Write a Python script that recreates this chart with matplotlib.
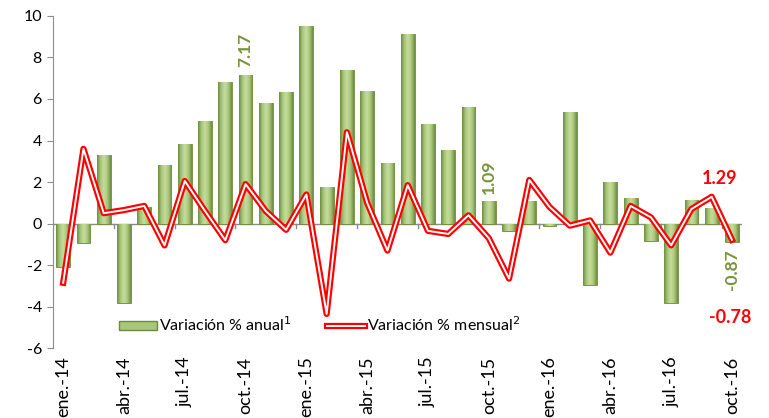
import numpy as np
import matplotlib
import matplotlib.pyplot as plt
import matplotlib.patheffects as pe
from matplotlib.colors import LinearSegmentedColormap
from matplotlib.patches import Patch
from matplotlib.lines import Line2D

plt.rcParams['font.family'] = ['Lato', 'DejaVu Sans']
plt.rcParams['axes.unicode_minus'] = False

months = ['ene.', 'feb.', 'mar.', 'abr.', 'may.', 'jun.', 'jul.', 'ago.', 'sep.', 'oct.', 'nov.', 'dic.']
years = ['14', '15', '16']
labels = [m + '-' + y for y in years for m in months][:34]

anual = [-2.1, -0.95, 3.3, -3.8, 0.8, 2.8, 3.85, 4.95, 6.8, 7.17, 5.8, 6.35,
         9.5, 1.75, 7.4, 6.4, 2.9, 9.15, 4.8, 3.55, 5.6, 1.09, -0.35, 1.1,
         -0.1, 5.35, -2.95, 2.0, 1.25, -0.85, -3.8, 1.15, 0.75, -0.87]
mensual = [-2.85, 3.6, 0.5, 0.65, 0.85, -1.05, 2.05, 0.6, -0.8, 1.9, 0.6, -0.3,
           1.4, -4.35, 4.4, 1.0, -1.3, 1.85, -0.35, -0.5, 0.4, -0.7, -2.65, 2.1,
           0.8, -0.1, 0.15, -1.4, 0.85, 0.3, -1.05, 0.7, 1.29, -0.78]

green_txt = '#77933C'
x = np.arange(len(anual))

fig = plt.figure(figsize=(7.69, 4.18), dpi=100)
ax = fig.add_axes([0.069, 0.167, 0.896, 0.795])

bars = ax.bar(x, anual, width=0.68, color='#9BBB59', edgecolor='#6E8A3C', linewidth=0.6, zorder=2)

# shaded look for the bars
cmap = LinearSegmentedColormap.from_list('g', ['#6F8E42', '#A9C77A', '#C6DD9E', '#A9C77A', '#6F8E42'])
grad = np.linspace(0, 1, 64).reshape(1, -1)
for b in bars:
    x0, y0 = b.get_x(), b.get_y()
    w, h = b.get_width(), b.get_height()
    im = ax.imshow(grad, extent=[x0, x0 + w, min(y0, y0 + h), max(y0, y0 + h)],
                   aspect='auto', cmap=cmap, zorder=2.1)
    im.set_clip_path(b)

line_fx = [pe.Stroke(linewidth=4.5, foreground='#FF0000'), pe.Normal()]
ax.plot(x, mensual, color='white', linewidth=1.4, zorder=3, path_effects=line_fx)

ax.set_xlim(-0.5, len(anual) - 0.5)
ax.set_ylim(-6, 10)

# zero line with small ticks every 3 months
ax.axhline(0, color='#8C8C8C', linewidth=1, zorder=1.5)
for t in np.arange(-0.5, len(anual), 3):
    ax.plot([t, t], [0, -0.2], color='#8C8C8C', linewidth=1, zorder=1.5)

ax.set_yticks(np.arange(-6, 11, 2))
ax.tick_params(axis='y', labelsize=11.5, length=4, color='#8C8C8C', pad=4)
ax.set_xticks(x[::3])
ax.set_xticklabels(labels[::3], rotation=90, fontsize=13)
ax.tick_params(axis='x', length=0, pad=6)
for s in ['top', 'right', 'bottom']:
    ax.spines[s].set_visible(False)
ax.spines['left'].set_color('#8C8C8C')

# value labels
ax.text(9, 7.17 + 0.35, '7.17', rotation=90, ha='center', va='bottom', color=green_txt,
        fontsize=12.5, fontweight='bold')
ax.text(21, 1.09 + 0.35, '1.09', rotation=90, ha='center', va='bottom', color=green_txt,
        fontsize=12.5, fontweight='bold')
ax.text(33, -0.87 - 0.35, '-0.87', rotation=90, ha='center', va='top', color=green_txt,
        fontsize=12.5, fontweight='bold')
ax.text(32.4, 2.15, '1.29', ha='center', va='center', color='#FF0000', fontsize=13, fontweight='bold')
ax.text(32.9, -4.5, '-0.78', ha='center', va='center', color='#FF0000', fontsize=13, fontweight='bold')

handles = [Patch(facecolor='#A9C77A', edgecolor='#6E8A3C'),
           Line2D([0], [0], color='white', linewidth=1.4, path_effects=line_fx)]
ax.legend(handles, ['Variación % anual$^1$', 'Variación % mensual$^2$'], ncol=2,
          loc='center left', bbox_to_anchor=(0.075, 0.07), frameon=False, fontsize=11.5,
          handlelength=2.4, handleheight=0.5, handletextpad=0.1, columnspacing=2.2)

fig.savefig('out.png', dpi=100)
